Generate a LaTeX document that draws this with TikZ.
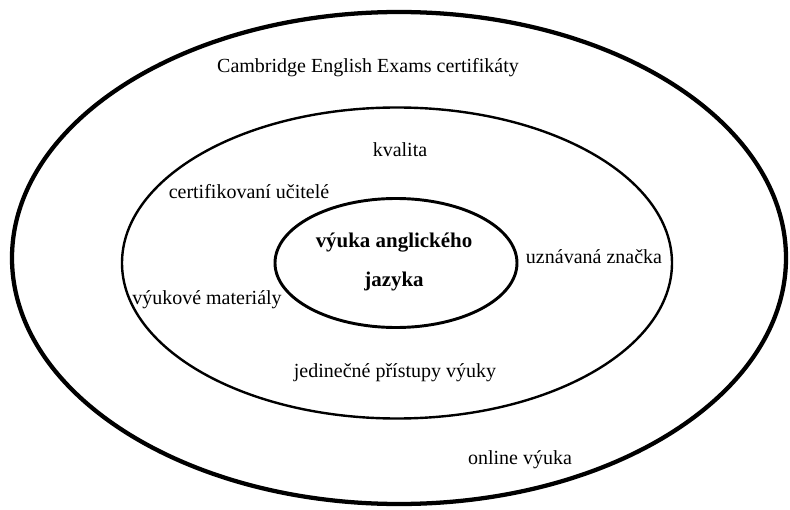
\documentclass[tikz,border=0pt]{standalone}
\usepackage{fontspec}
\setmainfont{Liberation Serif}
\usetikzlibrary{shapes.geometric}
\begin{document}
\begin{tikzpicture}[x=0.75pt,y=-0.75pt,
  ring/.style={ellipse,draw,inner sep=0pt},
  lbl/.style={font=\fontsize{15}{17}\selectfont,inner sep=0pt},
  core/.style={font=\fontsize{15.7}{18}\selectfont\bfseries,inner sep=0pt,align=center}]
\useasboundingbox (0,0) rectangle (790,510);
\node[ring,line width=3.2pt,minimum width=774*0.75pt,minimum height=492*0.75pt] (outer) at (399,258) {};
\node[ring,line width=1.8pt,minimum width=550*0.75pt,minimum height=311*0.75pt] (middle) at (397,263) {};
\node[ring,line width=2.2pt,minimum width=242*0.75pt,minimum height=129*0.75pt] (inner) at (396,263) {};
\node[lbl] (cam) at (368,68) {Cambridge English Exams certifikáty};
\node[lbl] (kval) at (400,150) {kvalita};
\node[lbl] (cert) at (249,192) {certifikovaní učitelé};
\node[lbl] (uzn) at (594,257) {uznávaná značka};
\node[lbl] (mat) at (207,300) {výukové materiály};
\node[lbl] (jed) at (395,373) {jedinečné přístupy výuky};
\node[lbl] (onl) at (520,460) {online výuka};
\node[core] (vyuka) at (394,262) {výuka anglického\\[11pt]jazyka};
\end{tikzpicture}
\end{document}
